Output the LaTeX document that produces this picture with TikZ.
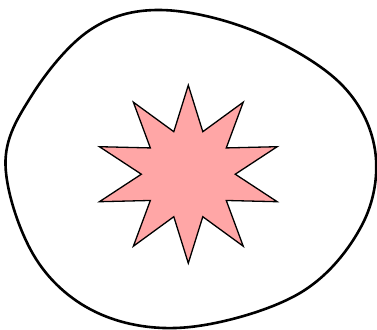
\documentclass[tikz,border=0pt]{standalone}
\begin{document}
\begin{tikzpicture}[x=1pt,y=-1pt,
  blob/.style={line width=2.6pt,line join=round},
  spark/.style={draw=black,line width=1.3pt,fill=red!35,line join=miter}]
 \useasboundingbox (0,0) rectangle (377,329);
 \draw[blob] plot[smooth cycle,tension=0.6] coordinates {(160,10) (254,31) (340,83)
   (375,150) (362,225) (300,293) (190,327) (100,314) (36,259) (5.5,165) (32,95)
   (90,30)};
 \begin{scope}[shift={(188.3,174.2)},xscale=1.05]
  \draw[spark] (90:89) \foreach \k in {1,...,19}{
    -- ({90+18*\k}:{mod(\k,2)==0 ? 89 : 44.7})} -- cycle;
 \end{scope}
\end{tikzpicture}
\end{document}
